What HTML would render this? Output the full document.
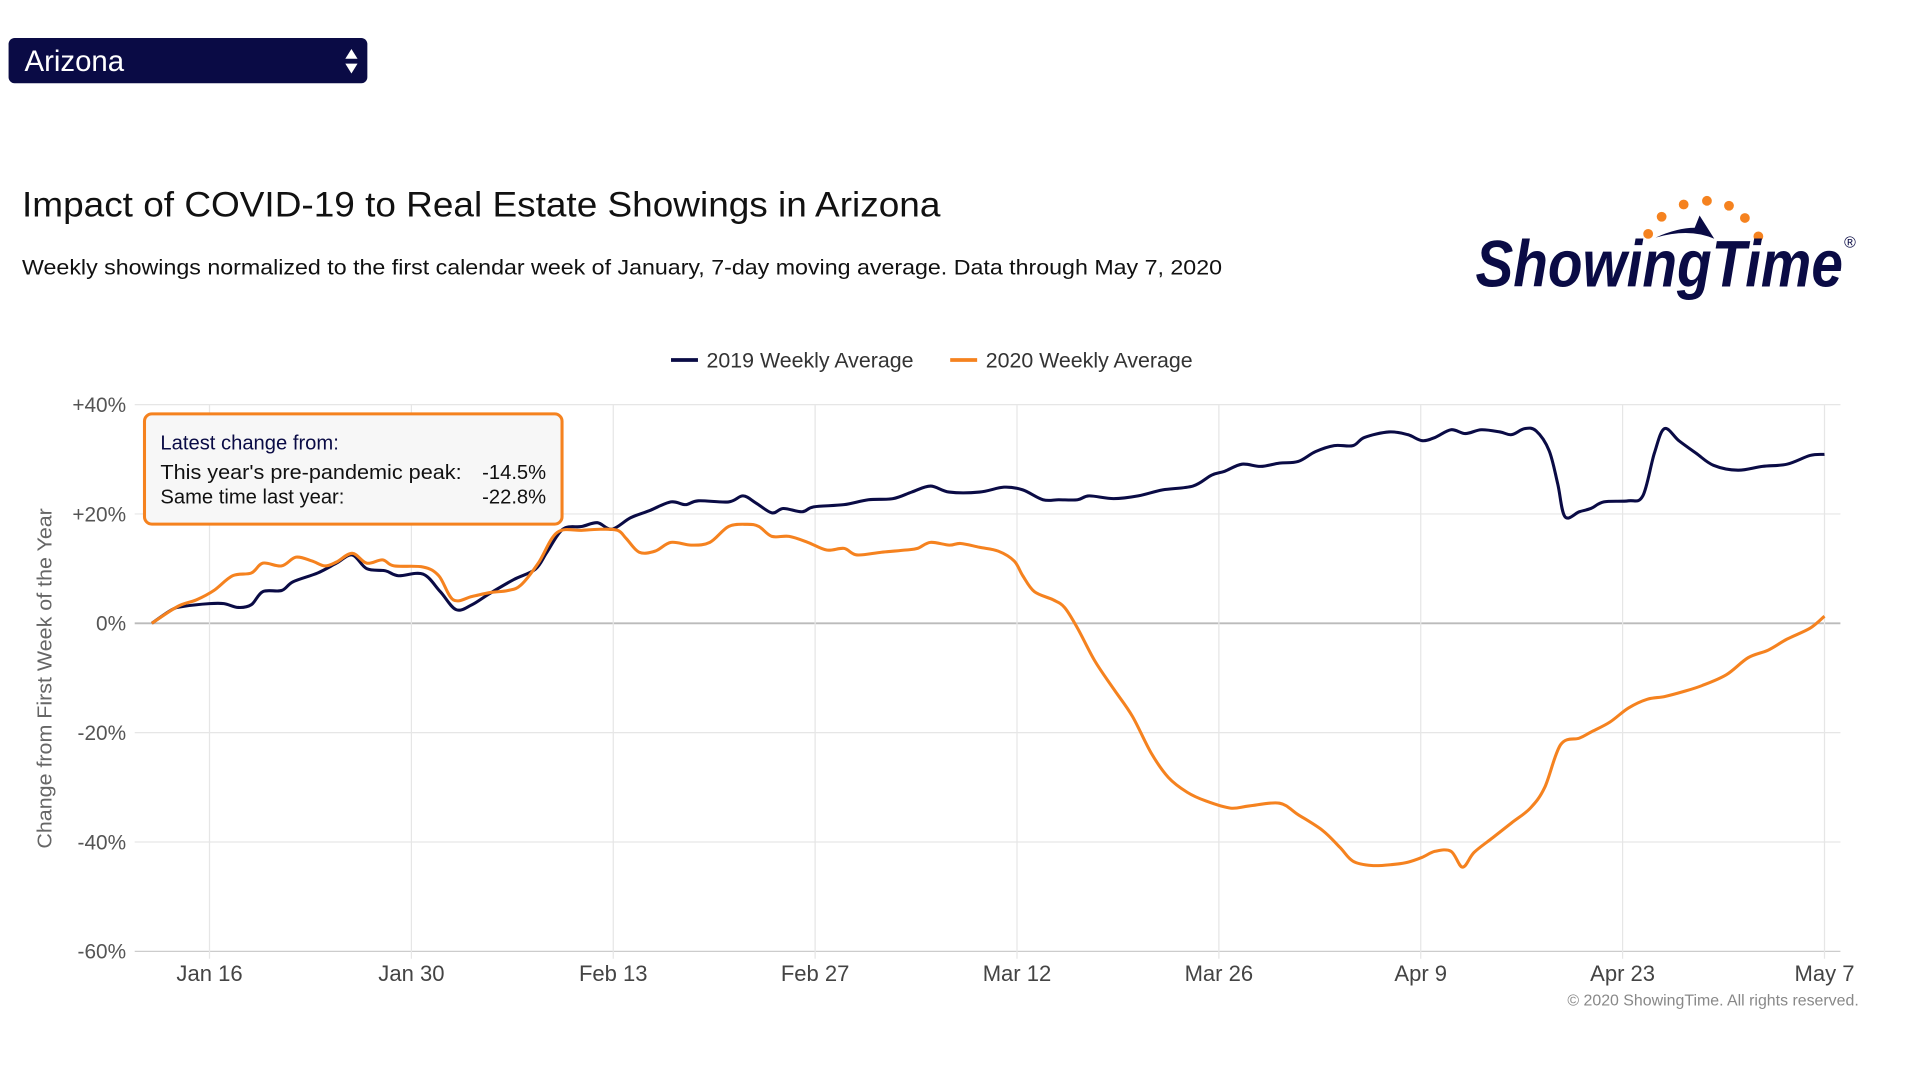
<!DOCTYPE html>
<html><head><meta charset="utf-8">
<style>
html,body{margin:0;padding:0;background:#fff;}
svg{display:block;font-family:"Liberation Sans",sans-serif;}
</style></head>
<body>
<svg id="chart" width="1920" height="1089" viewBox="0 0 1568 889.3" preserveAspectRatio="none" xmlns="http://www.w3.org/2000/svg">
  <g>
    <rect x="7" y="31" width="293" height="37" rx="5" fill="#0a0b45"/>
    <text x="20" y="58" font-size="24" fill="#fff">Arizona</text>
    <path d="M282 48 L287 40 L292 48 Z M282 52 L292 52 L287 60 Z" fill="#fff"/>
  </g>
  <text x="18" y="177" font-size="29" fill="#111" textLength="750" lengthAdjust="spacingAndGlyphs">Impact of COVID-19 to Real Estate Showings in Arizona</text>
  <text x="18" y="224" font-size="17.5" fill="#111" textLength="980" lengthAdjust="spacingAndGlyphs">Weekly showings normalized to the first calendar week of January, 7-day moving average. Data through May 7, 2020</text>

  <g>
    <circle cx="1346" cy="191" r="4" fill="#f5821f"/>
    <circle cx="1357" cy="177" r="4" fill="#f5821f"/>
    <circle cx="1375" cy="167" r="4" fill="#f5821f"/>
    <circle cx="1394" cy="164" r="4" fill="#f5821f"/>
    <circle cx="1412" cy="168" r="4" fill="#f5821f"/>
    <circle cx="1425" cy="178" r="4" fill="#f5821f"/>
    <circle cx="1436" cy="193" r="4" fill="#f5821f"/>
    <path d="M1352 194 Q1380 186 1400 195 L1388 176 L1384 186 Q1370 186 1352 194 Z" fill="#0a0b45"/>
    <text x="1205" y="234" font-size="54" font-weight="bold" font-style="italic" fill="#0a0b45" textLength="300" lengthAdjust="spacingAndGlyphs">ShowingTime</text>
    <text x="1506" y="202" font-size="13" fill="#0a0b45">®</text>
  </g>

  <g>
    <g>
      <line x1="548" y1="294" x2="570" y2="294" stroke="#0a0b45" stroke-width="3"/>
      <text x="577" y="300" font-size="17" fill="#333" textLength="169" lengthAdjust="spacingAndGlyphs">2019 Weekly Average</text>
    </g>
    <g>
      <line x1="776" y1="294" x2="798" y2="294" stroke="#f5821f" stroke-width="3"/>
      <text x="805" y="300" font-size="17" fill="#333" textLength="169" lengthAdjust="spacingAndGlyphs">2020 Weekly Average</text>
    </g>
  </g>

  <g id="grid"></g>
  <g id="series"></g>

  <text transform="translate(42,554) rotate(-90)" text-anchor="middle" font-size="16.5" fill="#666" textLength="278" lengthAdjust="spacingAndGlyphs">Change from First Week of the Year</text>

  <g>
    <rect x="118" y="338" width="341" height="90" rx="6" fill="#f7f7f7" stroke="#f5821f" stroke-width="2.5"/>
    <text x="131" y="367" font-size="16.5" fill="#0a0b45">Latest change from:</text>
    <text x="131" y="391" font-size="16.5" fill="#111" textLength="246" lengthAdjust="spacingAndGlyphs">This year's pre-pandemic peak:</text>
    <text x="446" y="391" font-size="16.5" fill="#111" text-anchor="end">-14.5%</text>
    <text x="131" y="411" font-size="16.5" fill="#111">Same time last year:</text>
    <text x="446" y="411" font-size="16.5" fill="#111" text-anchor="end">-22.8%</text>
  </g>

  <text x="1518" y="821" font-size="13" fill="#888" text-anchor="end">© 2020 ShowingTime. All rights reserved.</text>
</svg>
<script>
const yTicks = [40, 20, 0, -20, -40, -60];
const yTickLabels = ["+40%", "+20%", "0%", "-20%", "-40%", "-60%"];
const xTickDays = [4, 18, 32, 46, 60, 74, 88, 102, 116];
const xTickLabels = ["Jan 16", "Jan 30", "Feb 13", "Feb 27", "Mar 12", "Mar 26", "Apr 9", "Apr 23", "May 7"];

const days2019 = [0,1.4,2.2,4,5,6,6.9,7.7,9,9.8,11.5,12.8,13.9,14.9,16.2,17.1,18.8,20,21.1,22.2,23.4,25.1,26.6,27.4,28.5,29.8,30.9,31.9,33.2,34.5,36,37,37.9,40,41,41.9,43,43.8,45.1,45.9,48,49.7,51.4,52.7,54,55.3,57.4,59.1,60.4,61.8,62.9,64.2,65,66.7,68.4,70.1,72.2,73.5,74.4,75.6,76.9,78.2,79.5,80.7,82,83.3,84.1,85.8,87.1,88.1,89,90.1,91.1,92.2,93.5,94.3,95.2,96,96.9,97.5,98,99,99.8,100.7,102.4,103.4,104.2,104.9,105.9,107.1,108.3,110,111.7,113.4,115,116];
const values2019 = [0,2.5,3.1,3.6,3.6,2.9,3.4,5.8,6,7.6,9.2,11,12.5,10,9.6,8.7,9,5.8,2.5,3.4,5.4,8,9.9,13,17.2,17.7,18.4,17.2,19.3,20.6,22.2,21.7,22.4,22.2,23.3,22,20.2,21,20.4,21.3,21.7,22.6,22.8,24,25.1,24,24,24.9,24.4,22.6,22.6,22.6,23.3,22.8,23.3,24.4,25.1,27.1,27.8,29.1,28.7,29.3,29.6,31.4,32.5,32.5,34,35,34.5,33.4,34,35.4,34.7,35.4,35,34.5,35.6,35.2,31.6,25.5,19.5,20.4,21,22.2,22.4,23.3,31.1,35.6,33.4,31.1,28.9,28,28.7,29.1,30.7,30.9];

const days2020 = [0,1.8,3.1,4.3,5.6,6.9,7.7,9,10,11.1,12,12.8,13.9,14.9,16,16.8,18.8,19.9,20.9,22.2,23.4,24.7,25.6,26.8,28.1,29.8,31.1,32.3,32.9,33.8,34.9,36,37.4,38.7,40,41.3,42.1,43,44.2,45.5,46.8,48,48.9,50.6,52.3,53.1,54,55.3,56.1,57.4,58.7,59.8,60.4,61.2,62.5,63.3,64.2,65.4,66.7,68,69.3,70.5,71.8,73.1,74.8,76.1,78.2,79.5,81.2,82.4,83.3,84.6,86.1,87.1,88.1,89,90.1,90.9,91.7,93,94.3,95.6,96.6,97.7,99,99.8,101.1,102.4,103.7,104.9,106.2,107.5,109.2,110.7,112.1,113.4,115,116];
const values2020 = [0,3.1,4.3,6,8.7,9.2,11,10.5,12.1,11.4,10.5,11.2,12.8,11,11.6,10.5,10.3,8.7,4.3,4.9,5.6,6,7,11,16.6,17,17.2,17,15.5,13,13.2,14.8,14.3,14.8,17.7,18.1,17.7,15.9,15.9,14.8,13.4,13.7,12.5,13,13.4,13.7,14.8,14.3,14.6,13.9,13.2,11.4,8.7,5.8,4.3,2.9,-0.9,-6.9,-12,-17,-23.7,-28.2,-30.9,-32.5,-33.8,-33.4,-32.9,-35,-37.9,-41,-43.5,-44.3,-44.1,-43.7,-42.8,-41.7,-41.7,-44.6,-41.9,-39.2,-36.5,-33.8,-30,-22.2,-21,-19.9,-18.1,-15.5,-13.9,-13.4,-12.5,-11.4,-9.4,-6.3,-4.9,-2.9,-0.9,1.3];

const NS = "http://www.w3.org/2000/svg";
const plotL = 110, plotR = 1503;
const x = d => 124 + d * (1366 / 116);
const y = v => 509 - v * (89.3 / 20);

const grid = document.getElementById('grid');
yTicks.forEach((t, i) => {
  const l = document.createElementNS(NS, 'line');
  
  
  l.setAttribute('x1', plotL); l.setAttribute('x2', plotR);
  l.setAttribute('y1', y(t)); l.setAttribute('y2', y(t));
  l.setAttribute('stroke', t === 0 ? '#bbb' : (t === -60 ? '#ccc' : '#e6e6e6'));
  l.setAttribute('stroke-width', t === 0 ? 1.5 : 1);
  grid.appendChild(l);
  const tx = document.createElementNS(NS, 'text');
  
  
  tx.setAttribute('x', 103); tx.setAttribute('y', y(t) + 6);
  tx.setAttribute('text-anchor', 'end'); tx.setAttribute('font-size', '17'); tx.setAttribute('fill', '#555');
  tx.textContent = yTickLabels[i];
  grid.appendChild(tx);
});
xTickDays.forEach((d, i) => {
  const l = document.createElementNS(NS, 'line');
  
  
  l.setAttribute('x1', x(d)); l.setAttribute('x2', x(d));
  l.setAttribute('y1', y(40)); l.setAttribute('y2', y(-60) + 6);
  l.setAttribute('stroke', '#e6e6e6');
  grid.appendChild(l);
  const tx = document.createElementNS(NS, 'text');
  
  
  tx.setAttribute('x', x(d)); tx.setAttribute('y', 801);
  tx.setAttribute('text-anchor', 'middle'); tx.setAttribute('font-size', '18'); tx.setAttribute('fill', '#444');
  tx.textContent = xTickLabels[i];
  grid.appendChild(tx);
});

function smoothPath(ds, vs) {
  const p = ds.map((d, i) => [x(d), y(vs[i])]);
  let s = 'M' + p[0][0] + ' ' + p[0][1];
  for (let i = 0; i < p.length - 1; i++) {
    const p0 = p[i - 1] || p[i], p1 = p[i], p2 = p[i + 1], p3 = p[i + 2] || p2;
    const c1x = p1[0] + (p2[0] - p0[0]) / 6, c1y = p1[1] + (p2[1] - p0[1]) / 6;
    const c2x = p2[0] - (p3[0] - p1[0]) / 6, c2y = p2[1] - (p3[1] - p1[1]) / 6;
    s += ` C${c1x} ${c1y} ${c2x} ${c2y} ${p2[0]} ${p2[1]}`;
  }
  return s;
}
const series = document.getElementById('series');
const s20 = document.createElementNS(NS, 'path');


s20.setAttribute('d', smoothPath(days2020, values2020));
s20.setAttribute('fill', 'none'); s20.setAttribute('stroke', '#f5821f'); s20.setAttribute('stroke-width', '2.5');
series.appendChild(s20);
const s19 = document.createElementNS(NS, 'path');


s19.setAttribute('d', smoothPath(days2019, values2019));
s19.setAttribute('fill', 'none'); s19.setAttribute('stroke', '#0a0b45'); s19.setAttribute('stroke-width', '2.5');
series.insertBefore(s19, s20);
</script>
</body></html>
